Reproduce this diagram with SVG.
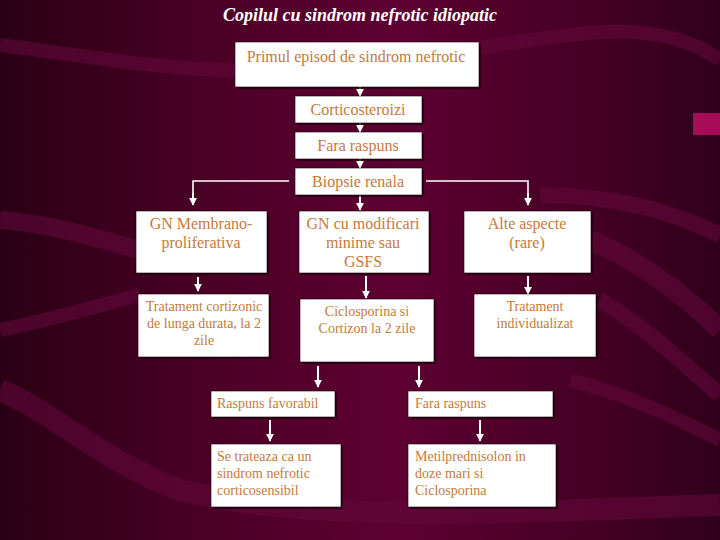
<svg xmlns="http://www.w3.org/2000/svg" width="720" height="540" viewBox="0 0 720 540">
<defs>
<linearGradient id="bg" x1="0" y1="0" x2="1" y2="0">
<stop offset="0" stop-color="#2a0014"/>
<stop offset="0.3" stop-color="#4c0026"/>
<stop offset="0.55" stop-color="#5e0032"/>
<stop offset="0.85" stop-color="#420022"/>
<stop offset="1" stop-color="#30001a"/>
</linearGradient>
<marker id="ah" viewBox="0 0 10 10" refX="9" refY="5" markerWidth="4" markerHeight="4" orient="auto" markerUnits="strokeWidth">
<path d="M0,0 L10,5 L0,10 z" fill="#fff"/>
</marker>
<style>
.box{fill:#fff;stroke:#1a0008;stroke-width:0.6}
.sh{fill:#1a000a;opacity:0.7}
.t{font-family:"Liberation Serif","DejaVu Serif",serif;font-size:14px;fill:#c47a3a}
.b{font-size:16px}
.c{text-anchor:middle}
.ln{stroke:#fff;stroke-width:1.6;fill:none}
.ar{stroke:#fff;stroke-width:2;fill:none;marker-end:url(#ah)}
.wave{fill:none;stroke:#62083a;opacity:0.6}
.title{font-family:"Liberation Serif","DejaVu Serif",serif;font-size:18px;font-weight:bold;font-style:italic;fill:#fff;text-anchor:middle}
</style>
</defs>
<rect width="720" height="540" fill="url(#bg)"/>
<g id="background-waves">
<path class="wave" stroke-width="14" d="M0,45 C80,55 160,70 240,70 C380,70 500,40 600,32 C660,28 700,45 720,60"/>
<path class="wave" stroke-width="18" d="M0,220 C60,225 100,240 140,250"/>
<path class="wave" stroke-width="14" d="M0,330 C50,320 100,305 140,295"/>
<path class="wave" stroke-width="22" d="M0,390 C50,410 100,460 180,490 C300,520 450,515 720,505"/>
<path class="wave" stroke-width="16" d="M540,195 C620,195 680,215 720,235"/>
<path class="wave" stroke-width="20" d="M590,240 C640,260 690,300 720,330"/>
<path class="wave" stroke-width="16" d="M600,300 C650,330 690,370 720,395"/>
<path class="wave" stroke-width="14" d="M570,380 C630,395 680,420 720,440"/>
<rect x="693" y="113" width="27" height="22" fill="#a80c58"/>
</g>
<text class="title" x="360" y="21">Copilul cu sindrom nefrotic idiopatic</text>
<g id="connectors">
<line class="ar" x1="360" y1="87" x2="360" y2="96"/>
<line class="ar" x1="360" y1="123" x2="360" y2="132"/>
<line class="ar" x1="360" y1="159" x2="360" y2="168"/>
<line class="ar" x1="360" y1="195" x2="360" y2="210"/>
<polyline class="ln" points="289,181 193,181 193,198"/>
<line class="ar" x1="193" y1="193" x2="193" y2="205"/>
<polyline class="ln" points="426,181 528,181 528,198"/>
<line class="ar" x1="528" y1="193" x2="528" y2="205"/>
<line class="ar" x1="198" y1="277" x2="198" y2="291"/>
<line class="ar" x1="366" y1="276" x2="366" y2="298"/>
<line class="ar" x1="528" y1="276" x2="528" y2="294"/>
<line class="ar" x1="318" y1="366" x2="318" y2="387"/>
<line class="ar" x1="419" y1="366" x2="419" y2="387"/>
<line class="ar" x1="270" y1="420" x2="270" y2="441"/>
<line class="ar" x1="480" y1="420" x2="480" y2="441"/>
</g>
<g id="primul">
<rect class="sh" x="237" y="44" width="244" height="45"/>
<rect class="box" x="235" y="42" width="244" height="45"/>
<text class="t b c" x="356" y="62">Primul episod de sindrom nefrotic</text>
</g>
<g id="corticosteroizi">
<rect class="sh" x="297" y="98" width="127" height="27"/>
<rect class="box" x="295" y="96" width="127" height="27"/>
<text class="t b c" x="358" y="115">Corticosteroizi</text>
</g>
<g id="fara1">
<rect class="sh" x="297" y="134" width="127" height="27"/>
<rect class="box" x="295" y="132" width="127" height="27"/>
<text class="t b c" x="358" y="151">Fara raspuns</text>
</g>
<g id="biopsie">
<rect class="sh" x="297" y="170" width="127" height="27"/>
<rect class="box" x="295" y="168" width="127" height="27"/>
<text class="t b c" x="358" y="187">Biopsie renala</text>
</g>
<g id="gnmembrano">
<rect class="sh" x="138" y="213" width="131" height="62"/>
<rect class="box" x="136" y="211" width="131" height="62"/>
<text class="t b c" x="201" y="229">GN Membrano-</text>
<text class="t b c" x="201" y="248">proliferativa</text>
</g>
<g id="gnmodif">
<rect class="sh" x="301" y="213" width="130" height="62"/>
<rect class="box" x="299" y="211" width="130" height="62"/>
<text class="t b c" x="363" y="229">GN cu modificari</text>
<text class="t b c" x="363" y="248">minime sau</text>
<text class="t b c" x="363" y="267">GSFS</text>
</g>
<g id="alte">
<rect class="sh" x="466" y="213" width="127" height="62"/>
<rect class="box" x="464" y="211" width="127" height="62"/>
<text class="t b c" x="527" y="229">Alte aspecte</text>
<text class="t b c" x="527" y="248">(rare)</text>
</g>
<g id="tratcort">
<rect class="sh" x="140" y="296" width="131" height="63"/>
<rect class="box" x="138" y="294" width="131" height="63"/>
<text class="t c" x="204" y="311">Tratament cortizonic</text>
<text class="t c" x="204" y="328">de lunga durata, la 2</text>
<text class="t c" x="204" y="345">zile</text>
</g>
<g id="ciclo">
<rect class="sh" x="302" y="301" width="134" height="63"/>
<rect class="box" x="300" y="299" width="134" height="63"/>
<text class="t c" x="367" y="316">Ciclosporina si</text>
<text class="t c" x="367" y="333">Cortizon la 2 zile</text>
</g>
<g id="tratind">
<rect class="sh" x="476" y="296" width="122" height="63"/>
<rect class="box" x="474" y="294" width="122" height="63"/>
<text class="t c" x="535" y="311">Tratament</text>
<text class="t c" x="535" y="328">individualizat</text>
</g>
<g id="raspfav">
<rect class="sh" x="213" y="393" width="124" height="26"/>
<rect class="box" x="211" y="391" width="124" height="26"/>
<text class="t" x="217" y="408">Raspuns favorabil</text>
</g>
<g id="fara2">
<rect class="sh" x="410" y="393" width="145" height="26"/>
<rect class="box" x="408" y="391" width="145" height="26"/>
<text class="t" x="415" y="408">Fara raspuns</text>
</g>
<g id="setrat">
<rect class="sh" x="213" y="446" width="130" height="63"/>
<rect class="box" x="211" y="444" width="130" height="63"/>
<text class="t" x="217" y="461">Se trateaza ca un</text>
<text class="t" x="217" y="478">sindrom nefrotic</text>
<text class="t" x="217" y="495">corticosensibil</text>
</g>
<g id="metil">
<rect class="sh" x="410" y="446" width="148" height="63"/>
<rect class="box" x="408" y="444" width="148" height="63"/>
<text class="t" x="415" y="461">Metilprednisolon in</text>
<text class="t" x="415" y="478">doze mari si</text>
<text class="t" x="415" y="495">Ciclosporina</text>
</g>
</svg>
